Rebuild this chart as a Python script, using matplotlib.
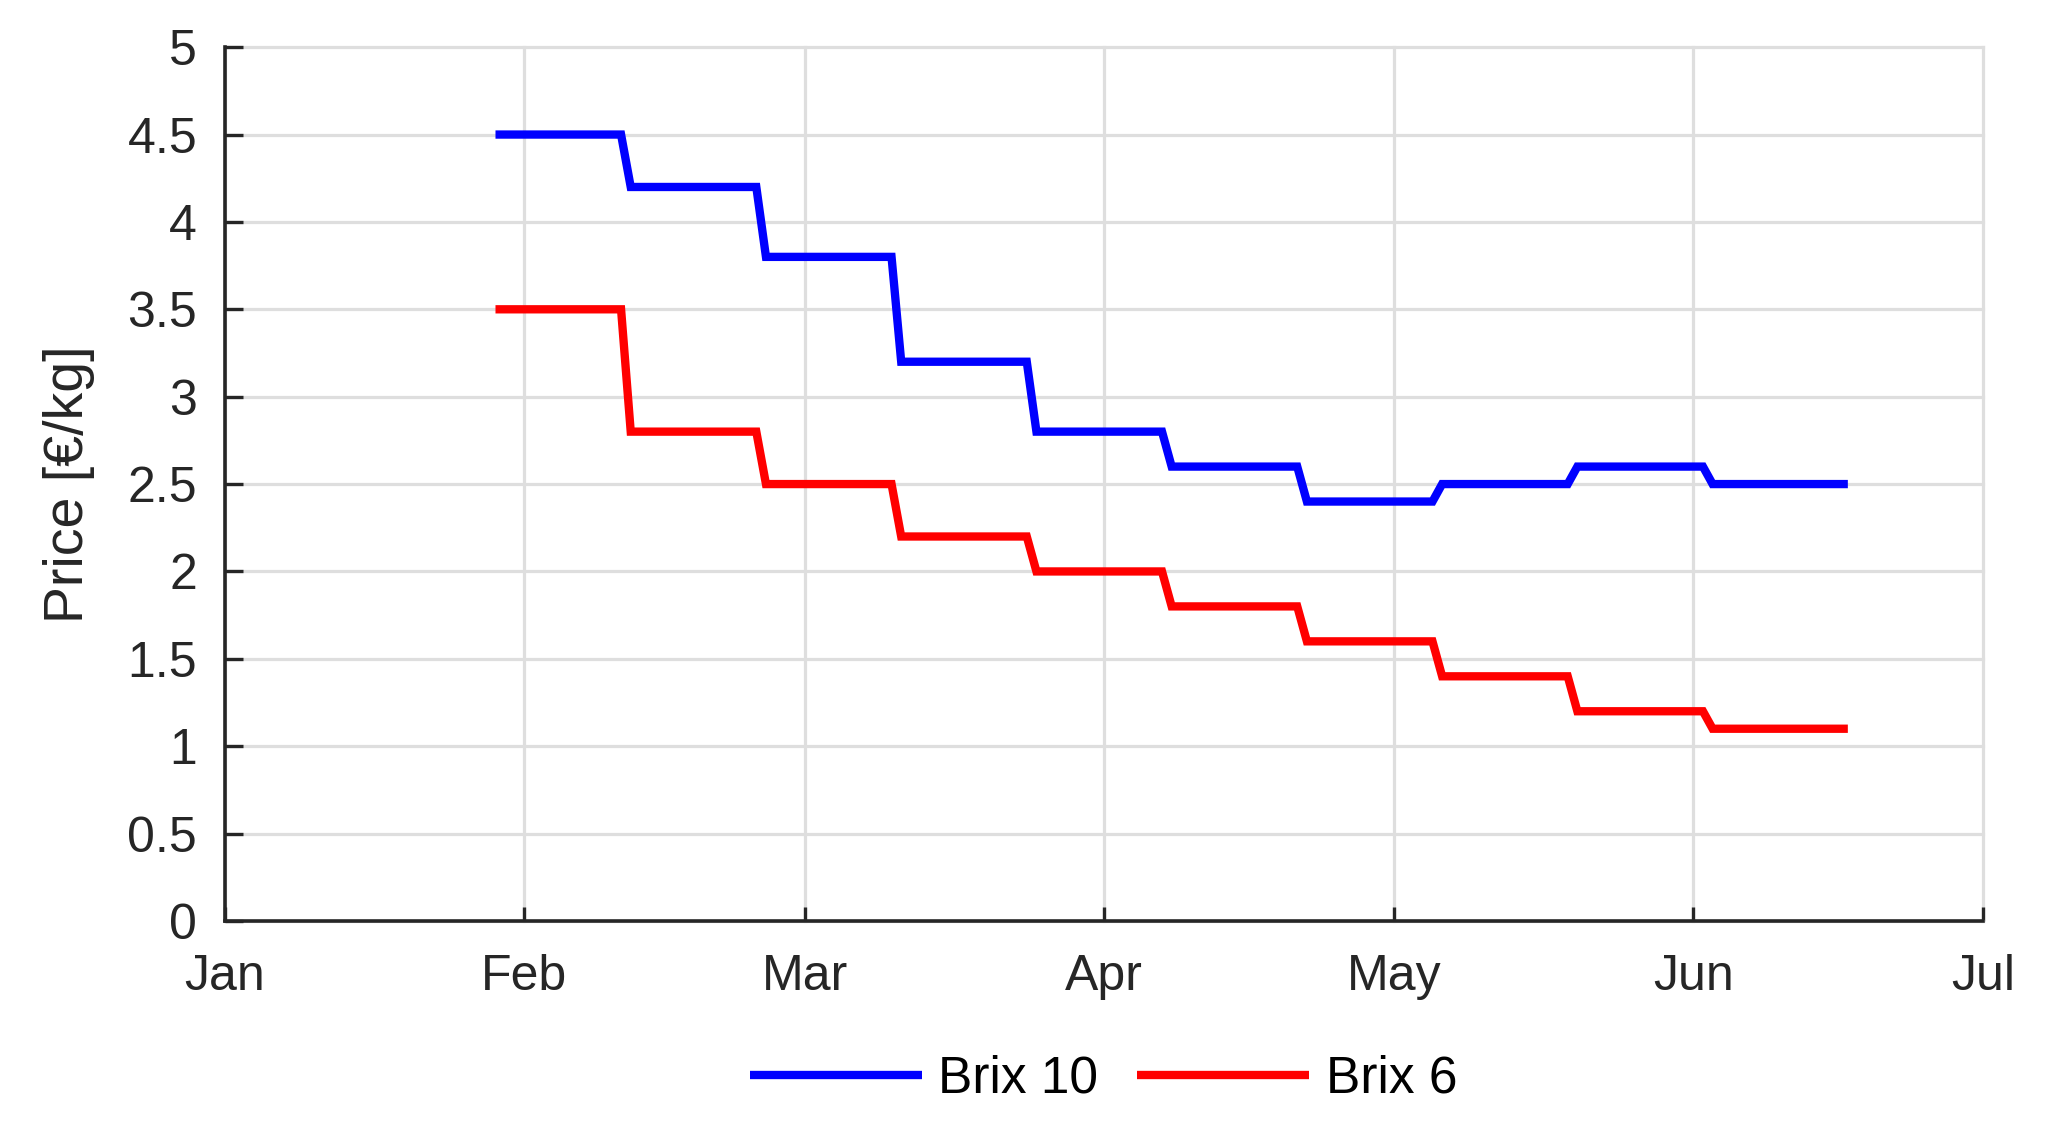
import matplotlib
matplotlib.use("Agg")
import matplotlib.pyplot as plt
import numpy as np
import pandas as pd

# ---- data ----
period_start = ["2020-01-29", "2020-02-12", "2020-02-26", "2020-03-11", "2020-03-25",
                "2020-04-08", "2020-04-22", "2020-05-06", "2020-05-20", "2020-06-03"]
last_day = "2020-06-17"
brix10 = [4.5, 4.2, 3.8, 3.2, 2.8, 2.6, 2.4, 2.5, 2.6, 2.5]
brix6 = [3.5, 2.8, 2.5, 2.2, 2.0, 1.8, 1.6, 1.4, 1.2, 1.1]
series_names = ["Brix 10", "Brix 6"]
month_ticks = ["2020-01-01", "2020-02-01", "2020-03-01", "2020-04-01",
               "2020-05-01", "2020-06-01", "2020-07-01"]
month_labels = ["Jan", "Feb", "Mar", "Apr", "May", "Jun", "Jul"]
y_ticks = [0, 0.5, 1, 1.5, 2, 2.5, 3, 3.5, 4, 4.5, 5]

# daily prices (each price holds for its two-week period)
days = pd.date_range(period_start[0], last_day, freq="D")
p10 = pd.Series(brix10, index=pd.to_datetime(period_start)).reindex(days, method="ffill")
p6 = pd.Series(brix6, index=pd.to_datetime(period_start)).reindex(days, method="ffill")

plt.rcParams["font.family"] = ["Liberation Sans", "DejaVu Sans"]
fig = plt.figure(figsize=(20.55, 11.23), dpi=100)
ax = fig.add_axes([0.1095, 0.1799, 0.9650 - 0.1095, 0.958 - 0.1799])

dark = "#262626"
ax.plot(days, p10.values, color="#0000ff", lw=6, label=series_names[0],
        solid_capstyle="butt", solid_joinstyle="miter", zorder=3)
ax.plot(days, p6.values, color="#ff0000", lw=6, label=series_names[1],
        solid_capstyle="butt", solid_joinstyle="miter", zorder=3)

ax.set_xlim(pd.Timestamp(month_ticks[0]), pd.Timestamp(month_ticks[-1]))
ax.set_ylim(0, 5)
ax.set_xticks(pd.to_datetime(month_ticks))
ax.set_xticklabels(month_labels)
ax.set_yticks(y_ticks)
ax.set_yticklabels(["%g" % v for v in y_ticks])

ax.grid(True, color="#dedede", lw=2.3, zorder=0)
for gl in ax.get_xgridlines() + ax.get_ygridlines():
    gl.set_clip_on(False)
ax.set_axisbelow(True)

for s in ["top", "right"]:
    ax.spines[s].set_visible(False)
for s in ["left", "bottom"]:
    ax.spines[s].set_color(dark)
    ax.spines[s].set_linewidth(2.6)
    ax.spines[s].set_zorder(4)

ax.tick_params(axis="both", direction="in", width=2.4, colors=dark, labelsize=36)
ax.tick_params(axis="y", pad=20, length=13)
ax.tick_params(axis="x", pad=24, length=10)

ax.set_ylabel("Price [€/kg]", fontsize=40, color=dark)
ax.yaxis.set_label_coords(-0.074, 0.5)

leg = fig.legend(loc="center", bbox_to_anchor=(0.537, 0.039), ncol=2, frameon=False,
                 fontsize=37, handlelength=3.35, handletextpad=0.32, columnspacing=0.76)
for t in leg.get_texts():
    t.set_color("black")

fig.savefig("out.png", dpi=100, facecolor="white")
